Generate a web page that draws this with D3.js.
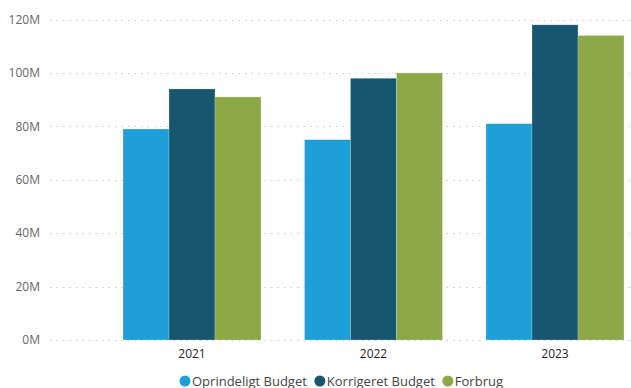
<!DOCTYPE html>
<html lang="da">
<head>
  <meta charset="UTF-8">
  <title>Budget vs Forbrug</title>
  <style>
    body { margin: 0; background: #fff; }
    svg { display: block; font-family: "Segoe UI", "Open Sans", "DejaVu Sans", sans-serif; }
    .grid line { stroke: #c8c8c8; stroke-dasharray: 1.5,5; }
    .ylab { fill: #666; font-size: 12px; }
    .xlab { fill: #252423; font-size: 12px; }
    .legend text { fill: #444; font-size: 13px; }
  </style>
</head>
<body>
  <script src="https://cdnjs.cloudflare.com/ajax/libs/d3/7.8.5/d3.min.js"></script>
  <svg></svg>
  <script>
    var years = ['2021', '2022', '2023'];
    var seriesNames = ['Oprindeligt Budget', 'Korrigeret Budget', 'Forbrug'];
    var oprindeligt = [79, 75, 81];   // millions
    var korrigeret = [94, 98, 118];
    var forbrug = [91, 100, 114];
    var yTicks = [0, 20, 40, 60, 80, 100, 120];
    var colors = ['#1f9fd9', '#17566f', '#8ca847'];

    var width = 631, height = 388;
    var values = [oprindeligt, korrigeret, forbrug];

    var svg = d3.select('svg')
                .attr('width', width)
                .attr('height', height);

    // scales
    var yScale = d3.scaleLinear()
                    .domain([0, 120])
                    .range([340, 19.5]);
    var xScale = d3.scaleBand()
                    .domain(years)
                    .range([101.25, 645.75])
                    .paddingInner(0.24)
                    .paddingOuter(0.12);
    var xInner = d3.scaleBand()
                    .domain(seriesNames)
                    .range([0, xScale.bandwidth()]);

    // gridlines + y labels
    var grid = svg.append('g').attr('class', 'grid');
    grid.selectAll('line')
      .data(yTicks)
      .enter()
      .append('line')
        .attr('x1', 50)
        .attr('x2', width)
        .attr('y1', function(d) { return Math.round(yScale(d)) + 0.5; })
        .attr('y2', function(d) { return Math.round(yScale(d)) + 0.5; });

    svg.append('g')
      .selectAll('text')
      .data(yTicks)
      .enter()
      .append('text')
        .attr('class', 'ylab')
        .attr('x', 40)
        .attr('y', function(d) { return yScale(d); })
        .attr('dy', '0.35em')
        .attr('text-anchor', 'end')
        .text(function(d) { return d + 'M'; });

    // bars
    var groups = svg.append('g')
      .selectAll('g')
      .data(years)
      .enter()
      .append('g')
        .attr('transform', function(d) { return 'translate(' + xScale(d) + ',0)'; });

    groups.selectAll('rect')
      .data(function(d, i) {
        return seriesNames.map(function(s, j) { return {s: s, v: values[j][i], c: colors[j]}; });
      })
      .enter()
      .append('rect')
        .attr('x', function(d) { return xInner(d.s); })
        .attr('y', function(d) { return yScale(d.v); })
        .attr('width', xInner.bandwidth())
        .attr('height', function(d) { return yScale(0) - yScale(d.v); })
        .attr('fill', function(d) { return d.c; })
        .attr('stroke', 'rgba(255,255,255,0.35)')
        .attr('stroke-width', 0.6);

    // x labels
    svg.append('g')
      .selectAll('text')
      .data(years)
      .enter()
      .append('text')
        .attr('class', 'xlab')
        .attr('x', function(d) { return xScale(d) + xScale.bandwidth() / 2; })
        .attr('y', 358)
        .attr('text-anchor', 'middle')
        .text(function(d) { return d; });

    // legend
    var legend = svg.append('g').attr('class', 'legend');
    var lx = 179;
    seriesNames.forEach(function(s, i) {
      legend.append('circle')
        .attr('cx', lx + 6)
        .attr('cy', 381)
        .attr('r', 5.5)
        .attr('fill', colors[i]);
      var t = legend.append('text')
        .attr('x', lx + 13)
        .attr('y', 385.5)
        .text(s);
      lx += 13 + t.node().getComputedTextLength() + 7;
    });
  </script>
</body>
</html>
